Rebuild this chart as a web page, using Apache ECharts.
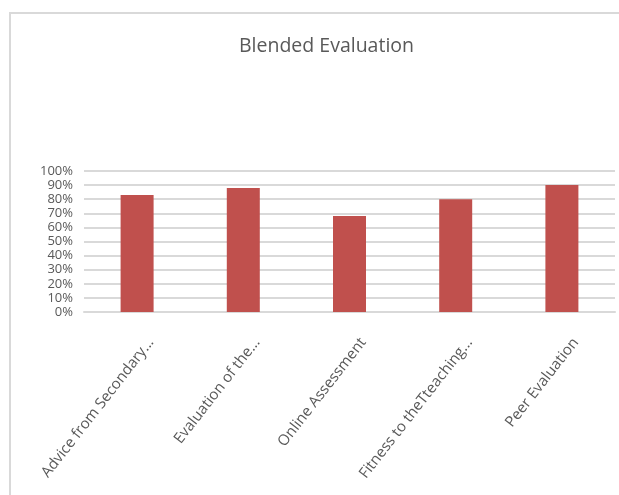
<!DOCTYPE html>
<html>
<head>
<meta charset="utf-8">
<title>Blended Evaluation</title>
<script src="https://cdn.jsdelivr.net/npm/echarts@6/dist/echarts.min.js"></script>
<style>
  html, body { margin: 0; padding: 0; background: #ffffff; }
  #chart { width: 619px; height: 495px; }
</style>
</head>
<body>
<div id="chart"></div>
<script>
// Share of positive ratings per evaluation method
const categories = [
  'Advice from Secondary...',
  'Evaluation of the...',
  'Online Assessment',
  'Fitness to theTteaching...',
  'Peer Evaluation'
];
const values = [83, 88, 68, 80, 90];
const yTicks = [0, 10, 20, 30, 40, 50, 60, 70, 80, 90, 100];

const font = "'Open Sans', sans-serif";

const chart = echarts.init(document.getElementById('chart'), null, { renderer: 'canvas' });

chart.setOption({
  backgroundColor: '#ffffff',
  animation: false,
  title: {
    text: 'Blended Evaluation',
    left: 234,
    top: 31,
    textStyle: {
      fontFamily: font,
      fontSize: 19.5,
      fontWeight: 'normal',
      color: '#595959'
    }
  },
  graphic: [{
    type: 'rect',
    shape: { x: 10, y: 13, width: 700, height: 600 },
    style: { fill: 'none', stroke: '#d9d9d9', lineWidth: 2 },
    silent: true
  }],
  grid: {
    left: 84,
    right: 4,
    top: 171,
    bottom: 183
  },
  xAxis: {
    type: 'category',
    data: categories,
    axisLine: { show: true, lineStyle: { color: '#d9d9d9', width: 2 } },
    axisTick: { show: false },
    axisLabel: {
      interval: 0,
      rotate: 52,
      margin: 17,
      verticalAlign: 'top',
      padding: [10, 0, 0, 0],
      fontFamily: font,
      fontSize: 15,
      color: '#595959'
    }
  },
  yAxis: {
    type: 'value',
    min: yTicks[0],
    max: yTicks[yTicks.length - 1],
    interval: 10,
    axisLine: { show: false },
    axisTick: { show: false },
    splitLine: { lineStyle: { color: '#d9d9d9', width: 2 } },
    axisLabel: {
      margin: 11,
      showMinLabel: true,
      showMaxLabel: true,
      hideOverlap: false,
      fontFamily: font,
      fontSize: 13,
      color: '#595959',
      formatter: v => v + '%'
    }
  },
  series: [{
    type: 'bar',
    data: values,
    barWidth: 33,
    itemStyle: { color: '#c0504d' }
  }]
});
</script>
</body>
</html>
